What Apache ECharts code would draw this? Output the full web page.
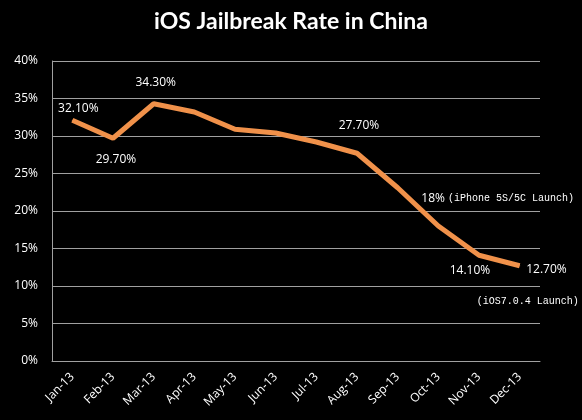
<!DOCTYPE html>
<html>
<head>
<meta charset="utf-8">
<script src="https://cdn.jsdelivr.net/npm/echarts@6/dist/echarts.min.js"></script>
<style>html,body{margin:0;padding:0;background:#000;}#c{width:582px;height:420px;}</style>
</head>
<body>
<div id="c"></div>
<script>
const categories = ['Jan-13','Feb-13','Mar-13','Apr-13','May-13','Jun-13','Jul-13','Aug-13','Sep-13','Oct-13','Nov-13','Dec-13'];
const rates = [32.1, 29.7, 34.3, 33.2, 30.9, 30.4, 29.2, 27.7, 23.1, 18.0, 14.1, 12.7];
const pointLabels = ['32.10%','29.70%','34.30%','','','','','27.70%','','18%','14.10%','12.70%'];
const notes = ['','','','','','','','','','(iPhone 5S/5C Launch)','','(iOS7.0.4 Launch)'];
const yTicks = [0, 5, 10, 15, 20, 25, 30, 35, 40];

const labelFont = {color:'#fff', fontFamily:'Open Sans', fontSize:12};
const noteFont = {color:'#fff', fontFamily:'Liberation Mono', fontSize:10};

// label placement per point (style only)
const placement = {
  0: {position:'top', distance:5, offset:[6,0]},
  1: {position:'bottom', distance:15, offset:[3,0]},
  2: {position:'top', distance:15, offset:[2,0]},
  7: {position:'top', distance:21, offset:[2,0]},
  9: {position:'top', distance:5, align:'left', offset:[-17,-16]},
  10:{position:'bottom', distance:9, offset:[-9,0]},
  11:{position:'right', distance:6, offset:[0,4]}
};

const seriesData = rates.map((v, i) => {
  const txt = pointLabels[i];
  if (!txt) return {value: v};
  const p = placement[i] || {position:'top'};
  const inlineNote = (notes[i] && i === 9);
  return {
    value: v,
    label: Object.assign({
      show: true,
      formatter: inlineNote ? ('{v|' + txt + '} {n|' + notes[i] + '}') : txt,
      rich: {v: labelFont, n: noteFont}
    }, labelFont, p)
  };
});

const notePoints = [];
notes.forEach((n, i) => {
  if (n && i !== 9) {
    notePoints.push({
      coord: [categories[i], rates[i]],
      symbolSize: 0,
      label: Object.assign({show:true, formatter:n, position:'inside', offset:[8,36]}, noteFont)
    });
  }
});

const chart = echarts.init(document.getElementById('c'), null, {renderer:'canvas'});
chart.setOption({
  backgroundColor:'#000',
  animation:false,
  title:{
    text:'iOS Jailbreak Rate in China',
    left:'center', top:5,
    textStyle:{color:'#fff', fontFamily:'Lato', fontWeight:'bold', fontSize:23}
  },
  grid:{left:52, right:42, top:61, bottom:59},
  xAxis:{
    type:'category',
    data:categories,
    boundaryGap:true,
    axisLine:{lineStyle:{color:'#a0a0a0', width:1}},
    axisTick:{show:false},
    axisLabel:{color:'#fff', fontFamily:'Open Sans', fontSize:12, rotate:45, margin:14, interval:0}
  },
  yAxis:{
    type:'value',
    min:yTicks[0], max:yTicks[yTicks.length-1], interval:yTicks[1]-yTicks[0],
    axisLine:{show:true, lineStyle:{color:'#a0a0a0', width:1}},
    axisTick:{show:false},
    axisLabel:{color:'#fff', fontFamily:'Open Sans', fontSize:12, margin:14, formatter:'{value}%'},
    splitLine:{lineStyle:{color:'#a0a0a0', width:1}}
  },
  series:[{
    type:'line',
    data:seriesData,
    symbol:'circle',
    symbolSize:1,
    showSymbol:true,
    lineStyle:{color:'#F0914A', width:5},
    itemStyle:{color:'#F0914A'},
    markPoint:{symbol:'circle', symbolSize:0, data:notePoints, itemStyle:{color:'transparent'}}
  }]
});
</script>
</body>
</html>
